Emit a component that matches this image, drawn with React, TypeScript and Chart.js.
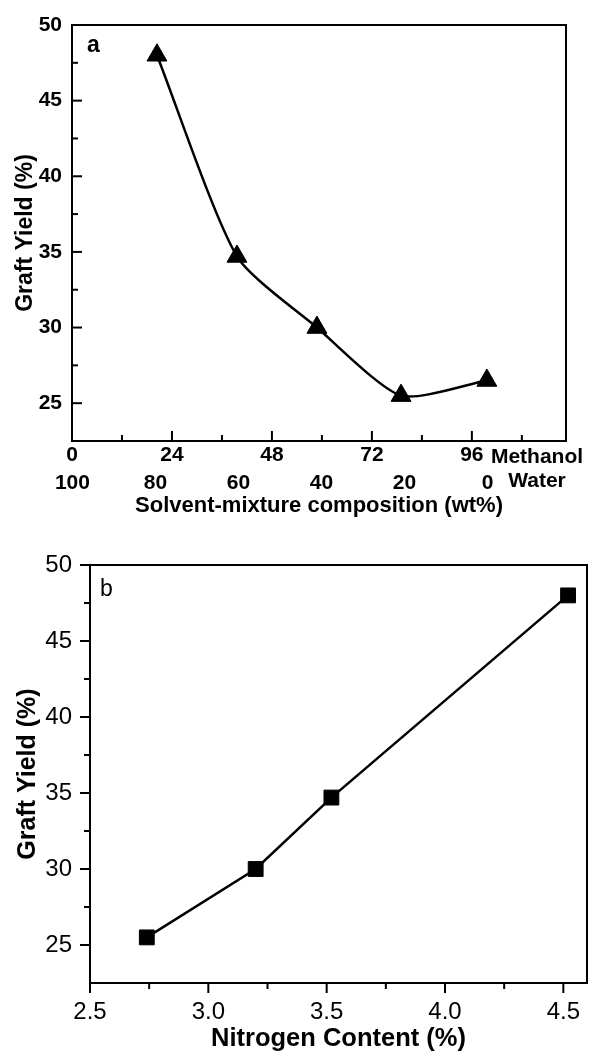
import React, { useEffect, useRef } from "react";
import { Chart, registerables } from "chart.js";

Chart.register(...registerables);

// ---------- Data: panel a ----------
const METHANOL_WT = [20.4, 39.6, 58.8, 79.0, 99.6];
const YIELD_A = [48.0, 34.7, 30.0, 25.5, 26.5];
const METHANOL_TICKS = [0, 24, 48, 72, 96];
const METHANOL_MINOR = [12, 36, 60, 84, 108];
const WATER_TICKS = [100, 80, 60, 40, 20, 0];
const YIELD_TICKS = [25, 30, 35, 40, 45, 50];
const YIELD_MINOR = [27.5, 32.5, 37.5, 42.5, 47.5];

// ---------- Data: panel b ----------
const NITROGEN = [2.74, 3.2, 3.52, 4.52];
const YIELD_B = [25.5, 30.0, 34.7, 48.0];
const NITROGEN_TICKS = [2.5, 3.0, 3.5, 4.0, 4.5];
const NITROGEN_MINOR = [2.75, 3.25, 3.75, 4.25];

// ---------- Text ----------
const Y_TITLE = "Graft Yield (%)";
const X_TITLE_A = "Solvent-mixture composition (wt%)";
const X_TITLE_B = "Nitrogen Content (%)";
const ROW1_NAME = "Methanol";
const ROW2_NAME = "Water";
const PANEL_A = "a";
const PANEL_B = "b";

const FAMILY = '"Liberation Sans", Arial, Helvetica, sans-serif';

Chart.defaults.color = "#000";
Chart.defaults.font.family = FAMILY;

const frameTicksPlugin = {
  id: "frameTicks",
  afterDraw(chart: any, _args: any, opts: any) {
    const { ctx, chartArea: a } = chart;
    ctx.save();
    ctx.strokeStyle = "#000";
    ctx.lineWidth = 2;
    ctx.lineCap = "butt";
    ctx.strokeRect(a.left, a.top, a.right - a.left, a.bottom - a.top);
    for (const m of opts.marks || []) {
      const s = chart.scales[m.scale];
      const one = (v: number, len: number) => {
        const p = s.getPixelForValue(v);
        ctx.beginPath();
        if (s.isHorizontal()) {
          const dir = m.inward ? -1 : 1;
          ctx.moveTo(p, a.bottom);
          ctx.lineTo(p, a.bottom + dir * len);
        } else {
          const dir = m.inward ? 1 : -1;
          ctx.moveTo(a.left, p);
          ctx.lineTo(a.left + dir * len, p);
        }
        ctx.stroke();
      };
      m.major.forEach((v: number) => one(v, 10));
      m.minor.forEach((v: number) => one(v, 6));
    }
    for (const t of opts.texts || []) {
      ctx.font = t.font;
      ctx.textAlign = t.align;
      ctx.textBaseline = "alphabetic";
      ctx.fillStyle = "#000";
      const x = t.fromRight ? a.right + t.dx : a.left + t.dx;
      const y = t.fromBottom ? a.bottom + t.dy : a.top + t.dy;
      ctx.fillText(t.text, x, y);
    }
    ctx.restore();
  },
};

const setTicks = (arr: number[]) => (s: any) => {
  s.ticks = arr.map((v) => ({ value: v }));
};

const fitTo = (key: "width" | "height", size: number) => (s: any) => {
  s[key] = size;
  s.paddingLeft = 0;
  s.paddingRight = 0;
  s.paddingTop = 0;
  s.paddingBottom = 0;
};

const noGrid = { display: false, drawTicks: false, tickLength: 0 };

function configA(): any {
  return {
    type: "line",
    data: {
      datasets: [
        {
          data: METHANOL_WT.map((x, i) => ({ x, y: YIELD_A[i] })),
          borderColor: "#000",
          borderWidth: 2.5,
          tension: 0.22,
          fill: false,
          pointStyle: "triangle",
          pointRadius: 11.5,
          pointBackgroundColor: "#000",
          pointBorderColor: "#000",
          pointBorderWidth: 1,
          xAxisID: "x",
          yAxisID: "y",
        },
      ],
    },
    options: {
      animation: false,
      responsive: false,
      devicePixelRatio: 1,
      layout: { autoPadding: false, padding: { top: 25, right: 23, bottom: 0, left: 0 } },
      plugins: {
        legend: { display: false },
        tooltip: { enabled: false },
        frameTicks: {
          marks: [
            { scale: "x", major: METHANOL_TICKS, minor: METHANOL_MINOR, inward: true },
            { scale: "y", major: YIELD_TICKS, minor: YIELD_MINOR, inward: true },
          ],
          texts: [
            { text: PANEL_A, font: `bold 23px ${FAMILY}`, align: "left", dx: 15, dy: 27 },
            { text: ROW1_NAME, font: `bold 21px ${FAMILY}`, align: "center", fromRight: true, fromBottom: true, dx: -29, dy: 22 },
            { text: ROW2_NAME, font: `bold 21px ${FAMILY}`, align: "center", fromRight: true, fromBottom: true, dx: -29, dy: 46 },
          ],
        },
      },
      scales: {
        x: {
          type: "linear",
          position: "bottom",
          weight: 0,
          min: 0,
          max: 118.6,
          grid: noGrid,
          border: { display: false },
          afterBuildTicks: setTicks(METHANOL_TICKS),
          afterFit: fitTo("height", 30),
          ticks: {
            font: { size: 21, weight: "bold" },
            color: "#000",
            padding: 2,
            maxRotation: 0,
            autoSkip: false,
          },
        },
        x2: {
          type: "linear",
          position: "bottom",
          weight: 1,
          reverse: true,
          min: -18.9,
          max: 100.1,
          grid: noGrid,
          border: { display: false },
          afterBuildTicks: setTicks(WATER_TICKS),
          afterFit: fitTo("height", 55),
          ticks: {
            font: { size: 21, weight: "bold" },
            color: "#000",
            padding: 0,
            maxRotation: 0,
            autoSkip: false,
          },
          title: {
            display: true,
            text: X_TITLE_A,
            color: "#000",
            font: { size: 22, weight: "bold" },
            padding: { top: 0, bottom: 7 },
          },
        },
        y: {
          type: "linear",
          position: "left",
          min: 22.5,
          max: 50,
          grid: noGrid,
          border: { display: false },
          afterBuildTicks: setTicks(YIELD_TICKS),
          afterFit: fitTo("width", 72),
          ticks: {
            font: { size: 21, weight: "bold" },
            color: "#000",
            padding: 10,
            autoSkip: false,
          },
          title: {
            display: true,
            text: Y_TITLE,
            color: "#000",
            font: { size: 23, weight: "bold" },
            padding: { top: 12, bottom: 0 },
          },
        },
      },
    },
    plugins: [frameTicksPlugin],
  };
}

function configB(): any {
  return {
    type: "line",
    data: {
      datasets: [
        {
          data: NITROGEN.map((x, i) => ({ x, y: YIELD_B[i] })),
          borderColor: "#000",
          borderWidth: 2.5,
          tension: 0,
          fill: false,
          pointStyle: "rect",
          pointRadius: 10.5,
          pointBackgroundColor: "#000",
          pointBorderColor: "#000",
          pointBorderWidth: 1,
        },
      ],
    },
    options: {
      animation: false,
      responsive: false,
      devicePixelRatio: 1,
      layout: { autoPadding: false, padding: { top: 39, right: 2, bottom: 0, left: 0 } },
      plugins: {
        legend: { display: false },
        tooltip: { enabled: false },
        frameTicks: {
          marks: [
            { scale: "x", major: NITROGEN_TICKS, minor: NITROGEN_MINOR, inward: false },
            { scale: "y", major: YIELD_TICKS, minor: YIELD_MINOR, inward: false },
          ],
          texts: [{ text: PANEL_B, font: `23px ${FAMILY}`, align: "left", dx: 10, dy: 31 }],
        },
      },
      scales: {
        x: {
          type: "linear",
          position: "bottom",
          min: 2.5,
          max: 4.6,
          grid: noGrid,
          border: { display: false },
          afterBuildTicks: setTicks(NITROGEN_TICKS),
          afterFit: fitTo("height", 70),
          ticks: {
            font: { size: 24 },
            color: "#000",
            padding: 15,
            maxRotation: 0,
            autoSkip: false,
            callback: (v: any) => Number(v).toFixed(1),
          },
          title: {
            display: true,
            text: X_TITLE_B,
            color: "#000",
            font: { size: 25.5, weight: "bold" },
            padding: { top: 0, bottom: -1 },
          },
        },
        y: {
          type: "linear",
          position: "left",
          min: 22.5,
          max: 50,
          grid: noGrid,
          border: { display: false },
          afterBuildTicks: setTicks(YIELD_TICKS),
          afterFit: fitTo("width", 90),
          ticks: {
            font: { size: 24 },
            color: "#000",
            padding: 18,
            autoSkip: false,
          },
          title: {
            display: true,
            text: Y_TITLE,
            color: "#000",
            font: { size: 25, weight: "bold" },
            padding: { top: 13, bottom: 0 },
          },
        },
      },
    },
    plugins: [frameTicksPlugin],
  };
}

function ChartCanvas({ make, width, height, top }: { make: () => any; width: number; height: number; top: number }) {
  const ref = useRef<HTMLCanvasElement | null>(null);
  useEffect(() => {
    if (!ref.current) return;
    const chart = new Chart(ref.current, make());
    return () => chart.destroy();
  }, []);
  return (
    <canvas
      ref={ref}
      width={width}
      height={height}
      style={{ position: "absolute", left: 0, top, width, height, display: "block" }}
    />
  );
}

export default function App() {
  return (
    <div style={{ position: "absolute", left: 0, top: 0, width: 589, height: 1053, background: "#fff", overflow: "hidden" }}>
      <ChartCanvas make={configA} width={589} height={526} top={0} />
      <ChartCanvas make={configB} width={589} height={527} top={526} />
    </div>
  );
}
